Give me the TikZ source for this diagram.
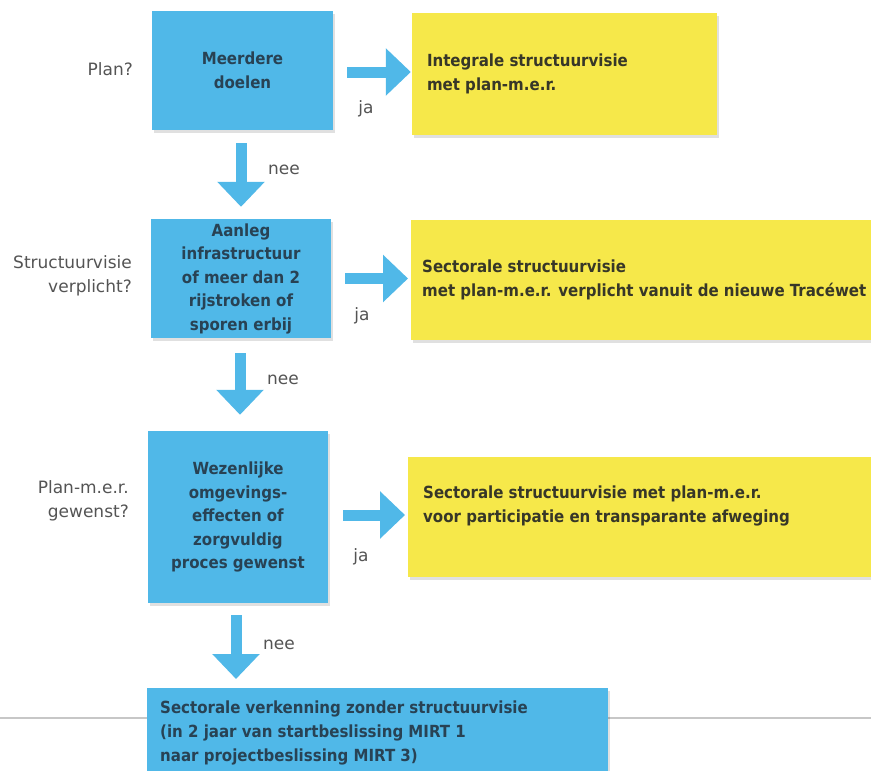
\documentclass[tikz,border=0pt]{standalone}
\usepackage{fontspec}
\setmainfont{DejaVu Sans}
\newfontfamily\boxfont{DejaVu Sans Condensed Bold}
\usetikzlibrary{arrows.meta,calc,shadows}
\definecolor{bluebox}{RGB}{80,184,232}
\definecolor{yelbox}{RGB}{246,232,74}
\definecolor{bluetext}{RGB}{40,66,84}
\definecolor{yeltext}{RGB}{55,55,40}
\definecolor{labeltext}{RGB}{84,84,84}
\definecolor{arrowc}{RGB}{80,184,232}
\begin{document}
\begin{tikzpicture}[x=1pt,y=-1pt,
  boxshadow/.style={drop shadow={shadow xshift=2pt,shadow yshift=-3pt,opacity=0.12,fill=black}},
  bluenode/.style={fill=bluebox,boxshadow,inner sep=0pt,text=bluetext,
     font=\boxfont\fontsize{16.7}{23.5}\selectfont,align=center},
  yelnode/.style={fill=yelbox,boxshadow,inner sep=0pt},
  yeltxt/.style={inner sep=0pt,anchor=west,align=left,text=yeltext,
     font=\boxfont\fontsize{16.7}{24}\selectfont},
  lbl/.style={inner sep=0pt,text=labeltext,font=\fontsize{17}{24}\selectfont},
  blockarrow/.style={draw=arrowc,line width=11pt,-{Triangle[length=25pt,width=46pt]}}
]
\useasboundingbox (0,0) rectangle (871,771);
\fill[white] (0,0) rectangle (871,771);
\draw[black!22,line width=1.2pt] (0,718) -- (871,718);

% blue decision boxes
\node[bluenode,minimum width=181pt,minimum height=119pt] (b1) at (242.5,70.5) {Meerdere\\doelen};
\node[bluenode,minimum width=180pt,minimum height=119pt] (b2) at (241,278.5)
  {Aanleg\\infrastructuur\\of meer dan 2\\rijstroken of\\sporen erbij};
\node[bluenode,minimum width=180pt,minimum height=172pt] (b3) at (238,517)
  {Wezenlijke\\omgevings-\\effecten of\\zorgvuldig\\proces gewenst};
\node[bluenode,anchor=north west,minimum width=461pt,minimum height=110pt] (b4) at (147,688) {};
\node[inner sep=0pt,anchor=north west,align=left,text=bluetext,
  font=\boxfont\fontsize{16.7}{24}\selectfont] (t4) at ($(b4.north west)+(13,13)$)
  {Sectorale verkenning zonder structuurvisie\\(in 2 jaar van startbeslissing MIRT 1\\naar projectbeslissing MIRT 3)};

% yellow outcome boxes
\node[yelnode,minimum width=305pt,minimum height=122pt] (y1) at (564.5,74) {};
\node[yelnode,anchor=west,minimum width=470pt,minimum height=120pt] (y2) at (411,280) {};
\node[yelnode,anchor=west,minimum width=470pt,minimum height=120pt] (y3) at (408,517) {};
\node[yeltxt] (ty1) at ($(y1.west)+(15,0)$) {Integrale structuurvisie\\met plan-m.e.r.};
\node[yeltxt] (ty2) at ($(y2.west)+(11,-0.5)$) {Sectorale structuurvisie\\met plan-m.e.r. verplicht vanuit de nieuwe Tracéwet};
\node[yeltxt] (ty3) at ($(y3.west)+(15,-11)$) {Sectorale structuurvisie met plan-m.e.r.\\voor participatie en transparante afweging};

% question labels
\node[lbl,anchor=east] (q1) at (133,69) {Plan?};
\node[lbl,anchor=east,align=right] (q2) at (132,276) {Structuurvisie\\verplicht?};
\node[lbl,anchor=east,align=right] (q3) at (129,501) {Plan-m.e.r.\\gewenst?};

% yes arrows
\coordinate (a1s) at ($(b1.east)+(14,1.5)$);
\draw[blockarrow,shorten >=1pt] (a1s) -- (a1s -| y1.west);
\coordinate (a2s) at ($(b2.east)+(14,0)$);
\draw[blockarrow,shorten >=3pt] (a2s) -- (a2s -| y2.west);
\coordinate (a3s) at ($(b3.east)+(15,-2)$);
\draw[blockarrow,shorten >=3pt] (a3s) -- (a3s -| y3.west);
\node[lbl] (ja1) at (366,109) {ja};
\node[lbl] (ja2) at (362,316) {ja};
\node[lbl] (ja3) at (361,557) {ja};

% no arrows
\coordinate (d1s) at ($(b1.south)+(-1.5,13)$);
\draw[blockarrow,shorten >=12pt] (d1s) -- (d1s |- b2.north);
\coordinate (d2s) at ($(b2.south)+(-1,15)$);
\draw[blockarrow,shorten >=16pt] (d2s) -- (d2s |- b3.north);
\coordinate (d3s) at ($(b3.south)+(-2,12)$);
\draw[blockarrow,shorten >=9pt] (d3s) -- (d3s |- b4.north);
\node[lbl,anchor=west] (n1) at (268,170) {nee};
\node[lbl,anchor=west] (n2) at (267,380) {nee};
\node[lbl,anchor=west] (n3) at (263,645) {nee};
\end{tikzpicture}
\end{document}
